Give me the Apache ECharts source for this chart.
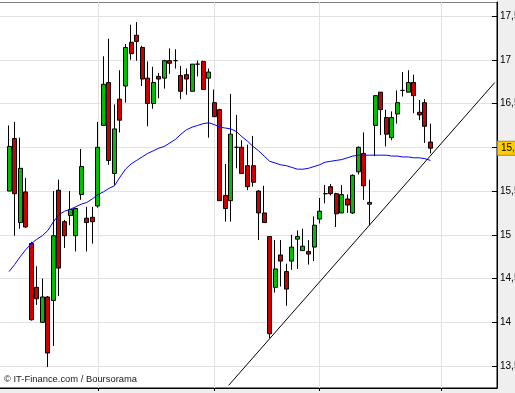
<!DOCTYPE html>
<html><head><meta charset="utf-8">
<script src="https://cdn.jsdelivr.net/npm/echarts@6/dist/echarts.min.js"></script>
<style>html,body{margin:0;padding:0;background:#fff;} #c{width:515px;height:393px;}</style>
</head><body><div id="c"></div>
<script>
// Daily candles
const opens  = [15.50,16.10,15.14,15.49,14.90,14.40,14.00,14.29,14.25,15.51,15.15,15.22,14.99,15.46,15.19,15.20,15.33,16.25,16.74,15.70,16.55,16.70,17.20,17.28,17.14,16.79,16.50,16.81,16.79,16.99,16.99,16.82,16.83,16.64,16.95,16.98,16.79,16.51,16.43,15.45,15.39,16.00,16.00,15.79,15.79,15.50,15.25,14.98,14.40,14.77,14.58,14.70,14.95,14.82,14.81,14.86,15.18,15.47,15.55,15.47,15.25,15.41,15.25,15.72,15.93,15.35,16.25,16.63,16.34,16.11,16.38,16.65,16.63,16.74,16.40,16.51,16.06];
const closes = [16.01,15.47,15.76,15.09,14.03,14.27,14.29,13.65,14.99,14.62,14.99,15.29,15.30,15.78,15.14,15.15,16.00,16.72,15.85,16.21,16.31,17.14,17.07,17.21,16.78,16.50,16.74,16.78,16.99,16.96,16.99,16.64,16.78,16.95,16.95,16.66,16.86,16.35,15.39,15.30,16.15,16.00,15.70,15.55,15.60,15.25,15.14,13.87,14.61,14.70,14.38,14.86,14.98,14.87,14.78,15.11,15.27,15.47,15.47,15.24,15.46,15.34,15.68,16.00,15.56,15.37,16.59,16.43,16.15,16.34,16.51,16.65,16.74,16.59,16.37,16.24,15.99];
const lows   = [15.50,14.99,15.07,15.08,14.02,14.20,14.00,13.49,13.73,14.30,14.85,15.11,14.81,15.40,14.81,14.90,15.31,16.25,15.80,15.57,16.17,16.51,17.00,16.99,16.70,16.24,16.44,16.56,16.67,16.84,16.90,16.55,16.60,16.64,16.81,16.66,16.11,16.35,15.39,15.15,15.15,15.76,15.70,15.51,15.55,14.94,15.14,13.82,14.34,14.41,14.19,14.60,14.61,14.82,14.66,14.70,15.13,15.36,15.45,15.09,15.25,15.25,15.24,15.69,15.40,15.11,15.90,16.14,16.01,16.08,16.27,16.58,16.63,16.39,16.31,16.05,15.93];
const highs  = [16.25,16.29,16.11,15.65,14.92,14.64,14.50,14.30,15.50,15.63,15.17,15.50,15.31,15.98,15.32,15.32,16.29,17.04,17.24,16.49,16.88,17.18,17.40,17.43,17.16,16.98,16.92,16.85,17.00,17.13,17.12,16.93,16.90,16.95,16.99,16.99,16.90,16.66,16.44,15.81,16.61,16.37,16.08,16.03,16.13,15.51,15.56,14.98,14.94,14.94,14.67,15.00,15.05,15.07,14.94,15.21,15.42,15.57,15.58,15.48,15.57,15.46,15.69,16.01,16.17,15.63,16.59,16.63,16.43,16.41,16.65,16.86,16.88,16.83,16.54,16.55,16.27];
// Moving average (blue line)
const movingAvg = [14.58,14.66,14.75,14.83,14.90,14.95,14.99,15.05,15.15,15.23,15.27,15.29,15.32,15.35,15.37,15.41,15.46,15.49,15.53,15.56,15.66,15.75,15.81,15.85,15.89,15.93,15.96,15.99,16.01,16.05,16.09,16.15,16.20,16.23,16.25,16.27,16.28,16.26,16.23,16.22,16.21,16.18,16.12,16.07,16.01,15.96,15.90,15.84,15.82,15.80,15.79,15.77,15.75,15.75,15.76,15.78,15.80,15.83,15.84,15.85,15.86,15.88,15.90,15.91,15.91,15.91,15.91,15.91,15.91,15.90,15.90,15.89,15.89,15.88,15.88,15.87,15.85];
// Trend line end points (slot position, price)
const trendSlots  = [41.6, 89.6];
const trendPrices = [13.28, 16.74];
// Axis / layout lists
const slotCount = 91;
const firstSlot = 2;
const monthSlots = [18, 39, 58, 80];
const priceTicks = [13.5, 14, 14.5, 15, 15.5, 16, 16.5, 17, 17.5];
const lastTagText = '15,5';
const creditText = '\u00A9 IT-Finance.com / Boursorama';

const cats = Array.from({length: slotCount}, (_, i) => String(i));
const candleData = cats.map((_, k) => {
  const i = k - firstSlot;
  return (i >= 0 && i < opens.length) ? [opens[i], closes[i], lows[i], highs[i]] : ['-', '-', '-', '-'];
});
const maData = cats.map((_, k) => {
  const i = k - firstSlot;
  return (i >= 0 && i < movingAvg.length) ? movingAvg[i] : '-';
});
const trendData = trendSlots.map((s, i) => [s, trendPrices[i]]);
const isMonth = (i) => monthSlots.indexOf(i) >= 0;
const lastClose = closes[closes.length - 1];

const chart = echarts.init(document.getElementById('c'), null, {renderer: 'canvas'});
chart.setOption({
  animation: false,
  backgroundColor: '#efefef',
  textStyle: {fontFamily: 'Liberation Sans'},
  title: {
    text: creditText, left: 4, top: 375, padding: 0,
    textStyle: {fontSize: 9.4, fontWeight: 'normal', color: '#1a1a1a', fontFamily: 'Liberation Sans'}
  },
  graphic: [{type: 'rect', left: 0, top: 0, shape: {width: 497, height: 2}, style: {fill: '#fff'}, silent: true}],
  grid: {left: -2, right: 18, top: 2, bottom: 5, show: true, backgroundColor: '#fff',
         borderColor: '#000', borderWidth: 1, outerBoundsMode: 'none', containLabel: false},
  xAxis: [
    {type: 'category', data: cats, boundaryGap: false,
     axisLine: {show: true, lineStyle: {color: '#000'}},
     axisTick: {show: true, length: 3, interval: (i) => isMonth(i), lineStyle: {color: '#000'}},
     axisLabel: {show: false},
     splitLine: {show: true, interval: (i) => isMonth(i), lineStyle: {color: '#e2e2e2', width: 1}}},
    {type: 'value', min: 0, max: slotCount - 1, show: false}
  ],
  yAxis: [
    {type: 'value', position: 'right', min: 13.25, max: 17.66, interval: 0.25,
     axisLine: {show: true, lineStyle: {color: '#000'}},
     axisTick: {show: true, inside: true, length: 3, lineStyle: {color: '#000'}},
     axisLabel: {show: false},
     splitLine: {show: true, lineStyle: {color: ['rgba(0,0,0,0)', '#e2e2e2'], width: 1}}},
    {type: 'value', position: 'right', min: 13.25, max: 17.66,
     axisLine: {show: true, lineStyle: {color: '#000'}},
     axisTick: {show: true, inside: true, length: 5, customValues: priceTicks, lineStyle: {color: '#000'}},
     axisLabel: {show: true, customValues: priceTicks, margin: 3, fontSize: 10, color: '#000',
                 fontFamily: 'Liberation Sans',
                 formatter: (v) => (Math.abs(v - 16) < 1e-9 ? '' : String(v).replace('.', ','))},
     splitLine: {show: false}},
    {type: 'value', position: 'right', min: 13.25, max: 17.66, z: 10,
     axisLine: {show: false}, axisTick: {show: false}, splitLine: {show: false},
     axisLabel: {show: true, customValues: [lastClose], margin: 1, fontSize: 10, color: '#000',
                 fontFamily: 'Liberation Sans', formatter: () => lastTagText,
                 backgroundColor: '#ffcc00', borderColor: '#b08a00', borderWidth: 1,
                 padding: [2, 6, 1, 3]}}
  ],
  series: [
    {type: 'candlestick', data: candleData, barWidth: 4.5, clip: false, z: 3,
     itemStyle: {color: '#00bf00', color0: '#cc0000', borderColor: '#000', borderColor0: '#000',
                 borderColorDoji: '#000', borderWidth: 1}},
    {type: 'line', data: maData, symbol: 'none', showSymbol: false, clip: false, z: 4,
     lineStyle: {color: '#0000ff', width: 1}},
    {type: 'line', xAxisIndex: 1, data: trendData, symbol: 'none', showSymbol: false, z: 5,
     lineStyle: {color: '#000', width: 1}}
  ]
});
</script>
</body></html>
